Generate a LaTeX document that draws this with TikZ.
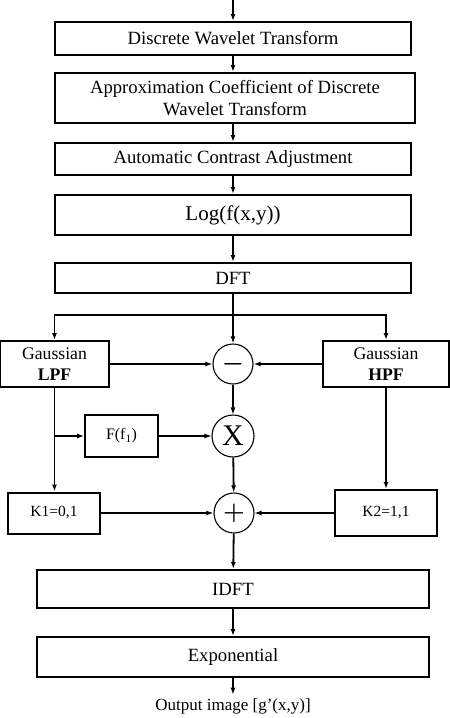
\documentclass[tikz,border=0pt]{standalone}
\usepackage{fontspec}
\setmainfont{Liberation Serif}
\usetikzlibrary{arrows.meta, positioning, calc}

\begin{document}
\begin{tikzpicture}[x=1pt, y=-1pt,
    every node/.style={font=\fontsize{18.7}{22}\selectfont},
    blk/.style={draw, line width=2pt, align=center, inner sep=1pt, minimum width=356pt},
    sumnode/.style={draw, circle, line width=1.1pt, minimum size=40pt, inner sep=0pt},
    flow/.style={-{Latex[length=7pt,width=5pt]}, line width=1.8pt},
    thinflow/.style={-{Latex[length=7pt,width=5pt]}, line width=1.1pt}
]
\useasboundingbox (0,0) rectangle (450,718);
% Main chain
\coordinate (in) at (233,0);
\node[blk, minimum height=33pt] (dwt) at (233,38.5) {Discrete Wavelet Transform};
\node[blk, minimum width=360pt, minimum height=50pt] (approx) at (235,98) {Approximation Coefficient of Discrete\\Wavelet Transform};
\node[blk, minimum height=32pt] (contrast) at (233,159) {Automatic Contrast Adjustment};
\node[blk, minimum height=40pt, font=\fontsize{21}{24}\selectfont] (logf) at (233,215) {Log(f(x,y))};
\node[blk, minimum height=30pt] (dft) at (233,278) {DFT};
\coordinate (split) at (233,315);
% Filters
\node[blk, minimum width=109pt, minimum height=46pt, font=\fontsize{17.7}{21}\selectfont] (lpf) at (54.5,364) {Gaussian\\\textbf{LPF}};
\node[blk, minimum width=126pt, minimum height=46pt, font=\fontsize{17.7}{21}\selectfont] (hpf) at (386,364) {Gaussian\\\textbf{HPF}};
\node[sumnode, font=\fontsize{28}{30}\selectfont\boldmath] (minus) at (233,364) {$-$};
\node[sumnode, minimum size=42pt, font=\fontsize{30}{32}\selectfont] (mult) at (233,436) {X};
\node[blk, minimum width=73pt, minimum height=42pt, font=\fontsize{16}{18}\selectfont] (ff) at (121.5,436) {F(f\textsubscript{1})};
\node[sumnode, font=\fontsize{30}{32}\selectfont\boldmath] (plus) at (234,513) {$+$};
\node[blk, minimum width=92pt, minimum height=41pt, font=\fontsize{15.5}{18}\selectfont] (kone) at (54,513) {K1=0,1};
\node[blk, minimum width=102pt, minimum height=46pt, font=\fontsize{15.5}{18}\selectfont] (ktwo) at (386,513) {K2=1,1};
% Output chain
\node[blk, minimum width=392pt, minimum height=38pt] (idft) at (233,589) {IDFT};
\node[blk, minimum width=392pt, minimum height=40pt] (expo) at (233,657) {Exponential};
\node[font=\fontsize{17}{19}\selectfont] (out) at (233,706) {Output image [g'(x,y)]};

% Connectors
\draw[flow] (in) -- (dwt);
\draw[flow] (dwt.south) -- (dwt.south |- approx.north);
\draw[flow] (approx.south -| dwt.south) -- (contrast.north);
\draw[flow] (contrast) -- (logf);
\draw[flow] (logf) -- (dft);
\draw[line width=1.8pt] (dft) -- (split);
\draw[flow] (split) -| (lpf.north);
\draw[flow] (split) -| (hpf.north);
\draw[flow] (split) -- (minus);
\draw[flow] (lpf) -- (minus);
\draw[flow] (hpf) -- (minus);
\draw[thinflow] (minus) -- (mult);
\draw[thinflow] (lpf.south |- ff.west) -- (ff.west);
\draw[thinflow] (ff) -- (mult);
\draw[flow] (lpf.south) -- (lpf.south |- kone.north);
\draw[flow] (hpf) -- (ktwo);
\draw[flow] (mult) -- (plus);
\draw[flow] (kone) -- (plus);
\draw[thinflow] (ktwo) -- (plus);
\draw[flow] (plus) -- (idft);
\draw[flow] (idft) -- (expo);
\draw[flow] (expo) -- (out);
\end{tikzpicture}
\end{document}
